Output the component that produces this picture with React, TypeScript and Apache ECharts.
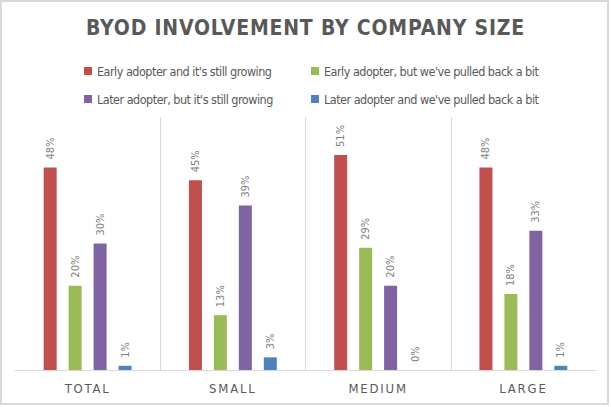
import React, { useEffect, useRef } from "react";
import * as echarts from "echarts";

const categories = ["TOTAL", "SMALL", "MEDIUM", "LARGE"];
const seriesNames = [
  "Early adopter and it's still growing",
  "Early adopter, but we've pulled back a bit",
  "Later adopter, but it's still growing",
  "Later adopter and we've pulled back a bit",
];
const earlyGrowing = [48, 45, 51, 48];
const earlyPulledBack = [20, 13, 29, 18];
const laterGrowing = [30, 39, 20, 33];
const laterPulledBack = [1, 3, 0, 1];
const seriesColors = ["#C0504D", "#9BBB59", "#8064A2", "#4F81BD"];
const titleText = "BYOD INVOLVEMENT BY COMPANY SIZE";

const FONT = "'DejaVu Sans Condensed', 'DejaVu Sans', sans-serif";

export default function App() {
  const ref = useRef<HTMLDivElement>(null);

  useEffect(() => {
    if (!ref.current) return;
    const chart = echarts.init(ref.current, undefined, { renderer: "svg" });
    const values = [earlyGrowing, earlyPulledBack, laterGrowing, laterPulledBack];

    const series = values.map((data, i) => ({
      name: seriesNames[i],
      type: "bar",
      data,
      barWidth: 13,
      barGap: "92%",
      itemStyle: { color: seriesColors[i] },
      label: {
        show: true,
        position: "top",
        distance: 8,
        rotate: 90,
        align: "left",
        verticalAlign: "middle",
        fontSize: 11,
        fontFamily: FONT,
        color: "#7F7F7F",
        formatter: "{c}%",
      },
    }));

    const legendBase = {
      orient: "vertical",
      icon: "rect",
      itemWidth: 8,
      itemHeight: 8,
      itemGap: 14,
      top: 64,
      padding: 0,
      selectedMode: false,
      textStyle: { fontSize: 12.5, lineHeight: 14, color: "#595959", fontFamily: FONT },
    };

    chart.setOption({
      animation: false,
      backgroundColor: "#ffffff",
      title: {
        text: titleText,
        left: "center",
        top: 17,
        padding: 0,
        textStyle: { fontSize: 21, fontWeight: "bold", color: "#595959", fontFamily: FONT },
      },
      legend: [
        { ...legendBase, left: 84, data: [seriesNames[0], seriesNames[2]] },
        { ...legendBase, left: 311, data: [seriesNames[1], seriesNames[3]] },
      ],
      graphic: [
        {
          type: "rect",
          shape: { x: 1, y: 1, width: 607, height: 403 },
          style: { fill: "none", stroke: "#D9D9D9", lineWidth: 2 },
          silent: true,
        },
      ],
      grid: { left: 15, right: 15, top: 117, bottom: 37, containLabel: false },
      xAxis: {
        type: "category",
        data: categories,
        axisLine: { show: true, lineStyle: { color: "#D9D9D9", width: 1 } },
        axisTick: { show: false },
        splitLine: { show: true, showMinLine: false, showMaxLine: false, lineStyle: { color: "#D9D9D9", width: 1 } },
        axisLabel: { margin: 12, fontSize: 13, color: "#595959", fontFamily: FONT },
      },
      yAxis: {
        type: "value",
        min: 0,
        max: 60,
        show: false,
        splitLine: { show: false },
      },
      series,
    });

    const applySpacing = () => {
      const root = ref.current;
      if (!root) return;
      root.querySelectorAll("text").forEach((t) => {
        const s = t.textContent || "";
        if (s === titleText) t.setAttribute("letter-spacing", "0.8");
        else if (categories.includes(s)) t.setAttribute("letter-spacing", "1.8");
        else if (seriesNames.includes(s)) t.setAttribute("letter-spacing", "-0.5");
      });
    };
    applySpacing();
    chart.on("finished", applySpacing);
    const raf = requestAnimationFrame(applySpacing);

    return () => {
      cancelAnimationFrame(raf);
      chart.dispose();
    };
  }, []);

  return (
    <div
      ref={ref}
      style={{ position: "absolute", left: 0, top: 0, width: 611, height: 407 }}
    />
  );
}
